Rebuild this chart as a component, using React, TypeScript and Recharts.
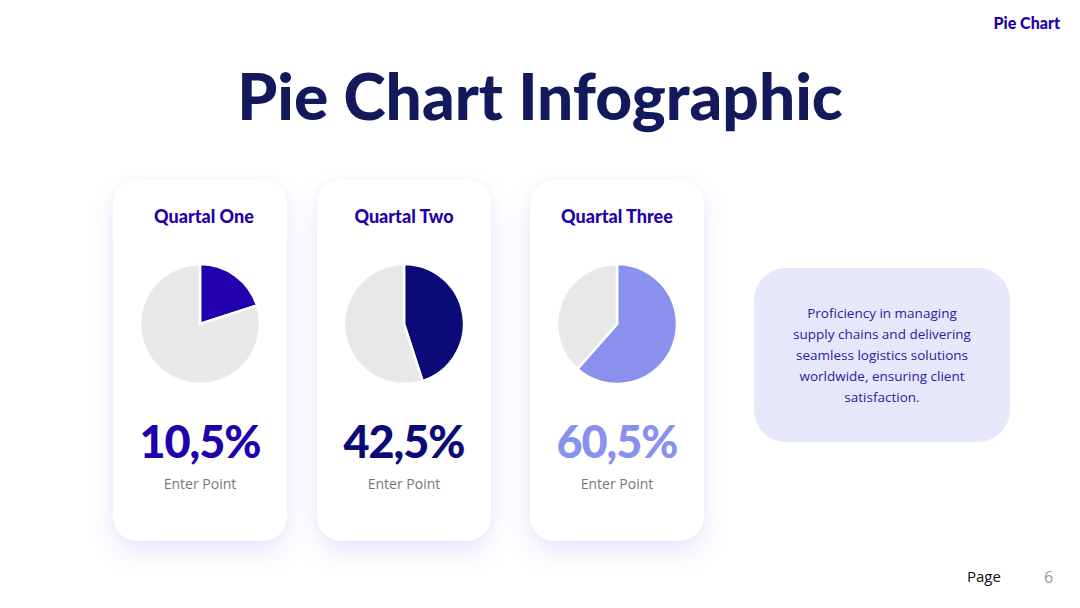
import React from "react";
import { PieChart, Pie, Cell } from "recharts";

const quarterNames = ["Quartal One", "Quartal Two", "Quartal Three"];
const highlightShares = [20, 45, 61.5];
const restShares = [80, 55, 38.5];
const quarterLabels = ["10,5%", "42,5%", "60,5%"];
const pointLabels = ["Enter Point", "Enter Point", "Enter Point"];

const sliceColors = ["#2100AE", "#0B0B78", "#8A90EE"];
const restColor = "#E8E8E8";
const cardLefts = [113, 317, 530];
const titleShifts = [4, 0, 0];

const description =
  "Proficiency in managing supply chains and delivering seamless logistics solutions worldwide, ensuring client satisfaction.";

function Card({ i }: { i: number }) {
  const data = [
    { name: "share", value: highlightShares[i] },
    { name: "rest", value: restShares[i] },
  ];
  return (
    <div
      style={{
        position: "absolute",
        left: cardLefts[i],
        top: 180,
        width: 174,
        height: 361,
        borderRadius: 24,
        background: "#FFFFFF",
        boxShadow: "0 12px 26px rgba(120,110,235,0.16), 0 0 8px rgba(120,110,235,0.06)",
      }}
    >
      <div
        style={{
          position: "absolute",
          top: 25,
          left: titleShifts[i],
          width: 174,
          textAlign: "center",
          fontFamily: "Lato, sans-serif",
          fontWeight: 900,
          fontSize: 18,
          color: "#2300A8",
        }}
      >
        {quarterNames[i]}
      </div>
      <div style={{ position: "absolute", left: 0, top: 74 }}>
        <PieChart width={174} height={140} margin={{ top: 0, right: 0, bottom: 0, left: 0 }}>
          <Pie
            data={data}
            dataKey="value"
            cx={87}
            cy={70}
            outerRadius={60}
            innerRadius={0}
            startAngle={90}
            endAngle={-270}
            stroke="#FFFFFF"
            strokeWidth={2.5}
            isAnimationActive={false}
          >
            <Cell fill={sliceColors[i]} />
            <Cell fill={restColor} />
          </Pie>
        </PieChart>
      </div>
      <div
        style={{
          position: "absolute",
          top: 233,
          left: 0,
          width: 174,
          textAlign: "center",
          fontFamily: "Lato, sans-serif",
          fontWeight: 900,
          fontSize: 45,
          letterSpacing: -1,
          lineHeight: "56px",
          color: sliceColors[i],
        }}
      >
        {quarterLabels[i]}
      </div>
      <div
        style={{
          position: "absolute",
          top: 294,
          left: 0,
          width: 174,
          textAlign: "center",
          fontFamily: "'Open Sans', sans-serif",
          fontSize: 14,
          color: "#777777",
        }}
      >
        {pointLabels[i]}
      </div>
    </div>
  );
}

export default function App() {
  return (
    <div
      style={{
        position: "absolute",
        left: 0,
        top: 0,
        width: 1080,
        height: 608,
        background: "#FFFFFF",
        overflow: "hidden",
      }}
    >
      <div
        style={{
          position: "absolute",
          right: 20,
          top: 13,
          fontFamily: "Lato, sans-serif",
          fontWeight: 900,
          fontSize: 16,
          color: "#2300A8",
        }}
      >
        Pie Chart
      </div>
      <div
        style={{
          position: "absolute",
          left: 0,
          top: 58,
          width: 1080,
          textAlign: "center",
          fontFamily: "Lato, sans-serif",
          fontWeight: 900,
          fontSize: 64,
          lineHeight: "76px",
          color: "#121A5B",
        }}
      >
        Pie Chart Infographic
      </div>
      {[0, 1, 2].map((i) => (
        <Card key={i} i={i} />
      ))}
      <div
        style={{
          position: "absolute",
          left: 754,
          top: 268,
          width: 256,
          height: 174,
          borderRadius: 32,
          background: "#E7E7FC",
          display: "flex",
          alignItems: "center",
          justifyContent: "center",
        }}
      >
        <div
          style={{
            width: 184,
            textAlign: "center",
            fontFamily: "'Open Sans', sans-serif",
            fontSize: 13.5,
            lineHeight: "21px",
            color: "#2A1C9C",
          }}
        >
          {description}
        </div>
      </div>
      <div
        style={{
          position: "absolute",
          left: 967,
          top: 566,
          fontFamily: "'Open Sans', sans-serif",
          fontSize: 15,
          color: "#111111",
        }}
      >
        Page
      </div>
      <div
        style={{
          position: "absolute",
          left: 1044,
          top: 566,
          fontFamily: "'Open Sans', sans-serif",
          fontSize: 16,
          color: "#999999",
        }}
      >
        6
      </div>
    </div>
  );
}
